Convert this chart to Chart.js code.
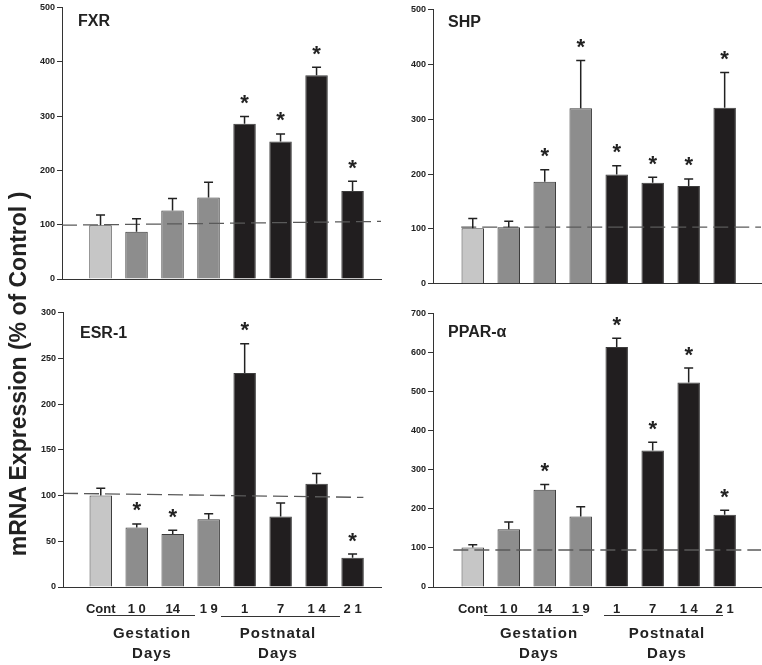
<!DOCTYPE html>
<html>
<head>
<meta charset="utf-8">
<script src="https://cdn.jsdelivr.net/npm/chart.js@4.4.0/dist/chart.umd.min.js"></script>
<style>
  body { margin: 0; background: #fff; }
  #fig { position: relative; width: 762px; height: 665px; font-family: Arial, "Liberation Sans", sans-serif; color: #222; }
  .panel { position: absolute; }
  .ytitle { position: absolute; width: 420px; height: 28px; line-height: 28px; text-align: center;
            font-weight: bold; font-size: 23px; transform: rotate(-90deg); white-space: nowrap; }
  .grp { position: absolute; width: 120px; font-weight: bold; font-size: 15px; letter-spacing: 1px;
         text-align: center; line-height: 20px; }
  .uline { position: absolute; height: 0; border-top: 1.5px solid #333; }
</style>
</head>
<body>
<div id="fig">
  <div class="panel" style="left:0;top:0"><canvas id="c1" width="385" height="295"></canvas></div>
  <div class="panel" style="left:385px;top:0"><canvas id="c2" width="377" height="295"></canvas></div>
  <div class="panel" style="left:0;top:295px"><canvas id="c3" width="385" height="330"></canvas></div>
  <div class="panel" style="left:385px;top:295px"><canvas id="c4" width="377" height="330"></canvas></div>

  <div class="ytitle" style="left:-192px;top:360px">mRNA Expression (% of Control )</div>

  <div class="uline" style="left:97px;top:615px;width:98px"></div>
  <div class="uline" style="left:221px;top:616px;width:119px"></div>
  <div class="grp" style="left:92px;top:623px">Gestation<br>Days</div>
  <div class="grp" style="left:218px;top:623px">Postnatal<br>Days</div>

  <div class="uline" style="left:484px;top:615px;width:99px"></div>
  <div class="uline" style="left:604px;top:615px;width:119px"></div>
  <div class="grp" style="left:479px;top:623px">Gestation<br>Days</div>
  <div class="grp" style="left:607px;top:623px">Postnatal<br>Days</div>
</div>

<script>
// categories: control, gestation days 10/14/19, postnatal days 1/7/14/21
const dayLabels = ['Cont', '1 0', '14', '1 9', '1', '7', '1 4', '2 1'];
const dayGroup = ['control', 'gestation', 'gestation', 'gestation', 'postnatal', 'postnatal', 'postnatal', 'postnatal'];

const fxrMean = [99, 87, 126, 150, 286, 253, 375, 162];
const fxrErr = [19, 24, 22, 28, 13, 14, 15, 18];
const fxrSig = [false, false, false, false, true, true, true, true];
const fxrRefX = [-1.07, 7.79];
const fxrRefY = [99, 106];

const shpMean = [101, 103, 186, 320, 199, 184, 178, 321];
const shpErr = [18, 11, 22, 87, 16, 10, 13, 64];
const shpSig = [false, false, true, true, true, true, true, true];
const shpRefX = [-0.32, 8.01];
const shpRefY = [103, 103];

const esrMean = [100, 65, 58, 74, 234, 77, 113, 32];
const esrErr = [8, 4, 4, 6, 32, 15, 11, 4];
const esrSig = [false, true, true, false, true, false, false, true];
const esrRefX = [-1.05, 7.3];
const esrRefY = [102.5, 98];

const pparMean = [101, 148, 249, 180, 614, 349, 523, 185];
const pparErr = [7, 18, 13, 25, 22, 21, 37, 11];
const pparSig = [false, false, true, false, true, true, true, true];
const pparRefX = [-0.54, 8.01];
const pparRefY = [94.6, 94.6];

const groupColors = { control: '#c6c6c6', gestation: '#8d8d8d', postnatal: '#211e1f' };

const panels = [
  { id: 'c1', name: 'FXR', mean: fxrMean, err: fxrErr, sig: fxrSig, refX: fxrRefX, refY: fxrRefY,
    yMax: 500, yStep: 100, xMin: -1.07, xMax: 7.79, showX: false, yW: 62, xH: 0,
    pad: { left: 0, top: 5, right: 4, bottom: 16 }, lbl: [16, 6] },
  { id: 'c2', name: 'SHP', mean: shpMean, err: shpErr, sig: shpSig, refX: shpRefX, refY: shpRefY,
    yMax: 500, yStep: 100, xMin: -1.105, xMax: 8.01, showX: false, yW: 48, xH: 0,
    pad: { left: 0, top: 9.5, right: 1, bottom: 11.3 }, lbl: [15, 5] },
  { id: 'c3', name: 'ESR-1', mean: esrMean, err: esrErr, sig: esrSig, refX: esrRefX, refY: esrRefY,
    yMax: 300, yStep: 50, xMin: -1.05, xMax: 7.79, showX: true, yW: 63, xH: 38,
    pad: { left: 0, top: 17.7, right: 4, bottom: 0 }, lbl: [17, 13] },
  { id: 'c4', name: 'PPAR-\u03b1', mean: pparMean, err: pparErr, sig: pparSig, refX: pparRefX, refY: pparRefY,
    yMax: 700, yStep: 100, xMin: -1.105, xMax: 8.01, showX: true, yW: 48, xH: 38,
    pad: { left: 0, top: 18.3, right: 1, bottom: 0 }, lbl: [15, 11] }
];

// error bars (upper only), significance stars and panel name
const extras = {
  id: 'extras',
  afterDatasetsDraw(chart, args, opts) {
    const p = opts.panel;
    const ctx = chart.ctx;
    const y = chart.scales.y;
    const meta = chart.getDatasetMeta(1);
    ctx.save();
    meta.data.forEach((bar, i) => {
      const top = y.getPixelForValue(p.mean[i] + p.err[i]);
      ctx.strokeStyle = '#222';
      ctx.lineWidth = 1.5;
      ctx.beginPath();
      ctx.moveTo(bar.x, bar.y);
      ctx.lineTo(bar.x, top);
      ctx.moveTo(bar.x - 4.5, top);
      ctx.lineTo(bar.x + 4.5, top);
      ctx.stroke();
      if (p.sig[i]) {
        ctx.fillStyle = '#222';
        ctx.font = 'bold 22px Arial';
        ctx.textAlign = 'center';
        ctx.textBaseline = 'alphabetic';
        ctx.fillText('*', bar.x, top - 19 + 12.5);
      }
    });
    const a = chart.chartArea;
    ctx.fillStyle = '#222';
    ctx.font = 'bold 16px Arial';
    ctx.textAlign = 'left';
    ctx.textBaseline = 'top';
    ctx.fillText(p.name, a.left + p.lbl[0], a.top + p.lbl[1]);
    ctx.restore();
  }
};

panels.forEach(p => {
  new Chart(document.getElementById(p.id), {
    data: {
      datasets: [
        {
          type: 'line',
          data: p.refX.map((x, i) => ({ x: x, y: p.refY[i] })),
          borderColor: '#5a5a5a',
          borderWidth: 1.3,
          borderDash: [15, 6],
          pointRadius: 0,
          order: 0
        },
        {
          type: 'bar',
          data: p.mean.map((v, i) => ({ x: i, y: v })),
          backgroundColor: dayGroup.map(g => groupColors[g]),
          borderColor: '#3c3c3c',
          borderWidth: 1,
          categoryPercentage: 1,
          barPercentage: 0.625,
          order: 1
        }
      ]
    },
    options: {
      responsive: false,
      animation: false,
      layout: { padding: p.pad },
      plugins: { legend: { display: false }, tooltip: { enabled: false }, extras: { panel: p } },
      scales: {
        x: {
          type: 'linear',
          offset: false,
          min: p.xMin,
          max: p.xMax,
          afterBuildTicks: s => { s.ticks = dayLabels.map((_, i) => ({ value: i })); },
          afterFit: s => { s.height = p.xH; },
          ticks: {
            display: p.showX,
            autoSkip: false,
            maxRotation: 0,
            padding: 7,
            color: '#222',
            font: { family: 'Arial', size: 13, weight: 'bold' },
            callback: v => dayLabels[v]
          },
          grid: { display: false, offset: false },
          border: { color: '#333', width: 1 }
        },
        y: {
          min: 0,
          max: p.yMax,
          afterFit: s => { s.width = p.yW; },
          ticks: {
            stepSize: p.yStep,
            padding: 2,
            color: '#222',
            font: { family: 'Arial', size: 9, weight: 'bold' }
          },
          grid: { drawOnChartArea: false, drawTicks: true, tickLength: 5, color: '#333' },
          border: { color: '#333', width: 1 }
        }
      }
    },
    plugins: [extras]
  });
});
</script>
</body>
</html>
